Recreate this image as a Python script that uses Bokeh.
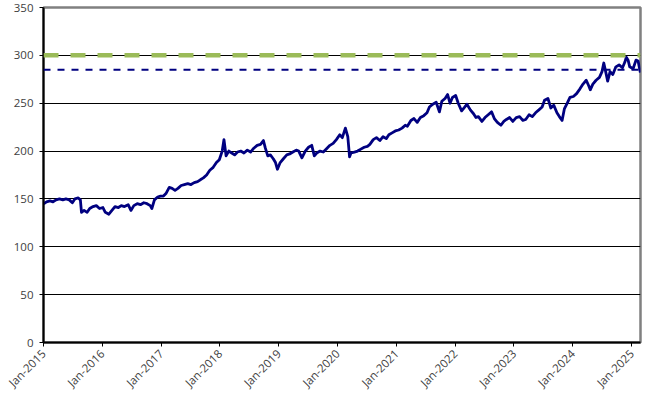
import math
import pandas as pd
from bokeh.plotting import figure
from bokeh.models import Range1d, FixedTicker, DatetimeTickFormatter, Span
from bokeh.embed import file_html
from bokeh.resources import INLINE

# ---- data ----
dates = [
    "2015-01-02", "2015-01-20", "2015-02-10", "2015-03-01", "2015-03-20", "2015-04-10",
    "2015-05-01", "2015-05-20", "2015-06-10", "2015-06-29", "2015-07-15", "2015-08-05",
    "2015-08-18", "2015-08-25", "2015-09-10", "2015-09-29", "2015-10-15", "2015-11-05",
    "2015-11-25", "2015-12-15", "2016-01-05", "2016-01-20", "2016-02-11", "2016-03-01",
    "2016-03-20", "2016-04-10", "2016-04-28", "2016-05-18", "2016-06-10", "2016-06-27",
    "2016-07-15", "2016-08-05", "2016-08-25", "2016-09-15", "2016-10-05", "2016-10-25",
    "2016-11-04", "2016-11-20", "2016-12-10", "2016-12-28", "2017-01-15", "2017-02-01",
    "2017-02-20", "2017-03-10", "2017-03-28", "2017-04-15", "2017-05-05", "2017-05-25",
    "2017-06-15", "2017-07-05", "2017-07-25", "2017-08-15", "2017-09-01", "2017-09-20",
    "2017-10-10", "2017-10-30", "2017-11-20", "2017-12-10", "2017-12-28", "2018-01-15",
    "2018-01-26", "2018-02-08", "2018-02-25", "2018-03-15", "2018-04-02", "2018-04-20",
    "2018-05-10", "2018-05-30", "2018-06-20", "2018-07-10", "2018-07-30", "2018-08-20",
    "2018-09-10", "2018-09-28", "2018-10-10", "2018-10-25", "2018-11-10", "2018-11-28",
    "2018-12-12", "2018-12-24", "2019-01-10", "2019-01-30", "2019-02-20", "2019-03-10",
    "2019-03-30", "2019-04-20", "2019-05-05", "2019-05-25", "2019-06-15", "2019-07-05",
    "2019-07-25", "2019-08-10", "2019-08-25", "2019-09-15", "2019-10-05", "2019-10-28",
    "2019-11-15", "2019-12-05", "2019-12-25", "2020-01-15", "2020-01-31", "2020-02-19",
    "2020-03-05", "2020-03-16", "2020-03-25", "2020-04-15", "2020-05-05", "2020-05-25",
    "2020-06-15", "2020-07-05", "2020-07-20", "2020-08-10", "2020-08-30", "2020-09-20",
    "2020-10-10", "2020-10-30", "2020-11-15", "2020-12-05", "2020-12-25", "2021-01-15",
    "2021-02-05", "2021-02-25", "2021-03-10", "2021-04-01", "2021-04-20", "2021-05-10",
    "2021-05-30", "2021-06-20", "2021-07-10", "2021-07-25", "2021-08-15", "2021-09-05",
    "2021-09-25", "2021-10-10", "2021-10-30", "2021-11-15", "2021-11-30", "2021-12-15",
    "2022-01-04", "2022-01-20", "2022-02-10", "2022-03-01", "2022-03-15", "2022-04-05",
    "2022-04-25", "2022-05-10", "2022-05-25", "2022-06-16", "2022-07-05", "2022-07-25",
    "2022-08-15", "2022-09-01", "2022-09-20", "2022-10-12", "2022-10-30", "2022-11-15",
    "2022-12-05", "2022-12-25", "2023-01-15", "2023-02-05", "2023-02-25", "2023-03-15",
    "2023-04-05", "2023-04-25", "2023-05-15", "2023-06-05", "2023-06-25", "2023-07-10",
    "2023-07-31", "2023-08-18", "2023-09-05", "2023-09-25", "2023-10-10", "2023-10-27",
    "2023-11-10", "2023-11-28", "2023-12-15", "2024-01-05", "2024-01-25", "2024-02-15",
    "2024-03-05", "2024-03-25", "2024-04-10", "2024-04-19", "2024-05-05", "2024-05-25",
    "2024-06-15", "2024-07-01", "2024-07-12", "2024-07-25", "2024-08-05", "2024-08-20",
    "2024-09-06", "2024-09-25", "2024-10-15", "2024-11-05", "2024-11-20", "2024-11-29",
    "2024-12-10", "2024-12-20", "2025-01-10", "2025-01-28", "2025-02-10", "2025-02-24",
]
index_values = [
    145, 147, 148, 147, 149, 150,
    149, 150, 149, 146, 150, 151,
    149, 136, 138, 136, 140, 142,
    143, 140, 141, 136, 134, 138,
    142, 141, 143, 142, 144, 138,
    143, 145, 144, 146, 145, 143,
    140, 149, 152, 153, 153, 156,
    162, 161, 159, 161, 164, 165,
    166, 165, 167, 168, 170, 172,
    175, 180, 183, 188, 191, 200,
    212, 195, 200, 198, 196, 199,
    200, 198, 201, 199, 203, 206,
    207, 211, 203, 195, 196, 192,
    188, 181, 188, 192, 196, 197,
    199, 201, 200, 193, 200, 204,
    206, 195, 198, 200, 199, 203,
    206, 208, 212, 217, 214, 224,
    215, 194, 198, 199, 200, 202,
    204, 205, 207, 212, 214, 211,
    215, 213, 217, 219, 221, 222,
    224, 227, 226, 232, 234, 230,
    235, 237, 240, 246, 249, 251,
    241, 252, 255, 259, 250, 256,
    258, 250, 242, 246, 249, 243,
    239, 235, 236, 231, 235, 238,
    241, 234, 230, 227, 231, 233,
    235, 231, 235, 236, 232, 233,
    238, 236, 240, 243, 246, 253,
    255, 245, 248, 240, 236, 232,
    244, 250, 256, 257, 260, 265,
    270, 274, 268, 264, 270, 274,
    277, 283, 292, 282, 273, 283,
    280, 288, 290, 287, 293, 298,
    295, 288, 286, 295, 294, 282,
]
green_level = 300
blue_level = 285
y_ticks = [0, 50, 100, 150, 200, 250, 300, 350]
grid_ticks = [50, 100, 150, 200, 250, 300]
x_tick_dates = ["2015-01-01", "2016-01-01", "2017-01-01", "2018-01-01", "2019-01-01",
                "2020-01-01", "2021-01-01", "2022-01-01", "2023-01-01", "2024-01-01",
                "2025-01-01"]
x_start, x_end = "2015-01-01", "2025-02-25"

# ---- figure ----
x = pd.to_datetime(dates)
epoch = pd.Timestamp("1970-01-01")
to_ms = lambda s: (pd.Timestamp(s) - epoch) // pd.Timedelta(milliseconds=1)

p = figure(width=655, height=400, x_axis_type="datetime",
           output_backend="svg", toolbar_location=None,
           x_range=Range1d(pd.Timestamp(x_start), pd.Timestamp(x_end)),
           y_range=Range1d(0, 350),
           min_border_left=43, min_border_right=15, min_border_top=7, min_border_bottom=58)
p.background_fill_color = "white"
p.border_fill_color = "white"
p.outline_line_color = "#808080"
p.outline_line_width = 2.5

p.xgrid.visible = False
p.ygrid.ticker = FixedTicker(ticks=grid_ticks)
p.ygrid.grid_line_color = "black"
p.ygrid.grid_line_width = 1

p.yaxis.ticker = FixedTicker(ticks=y_ticks)
p.xaxis.ticker = FixedTicker(ticks=[to_ms(d) for d in x_tick_dates])
fmt = "%b-%Y"
p.xaxis.formatter = DatetimeTickFormatter(
    microseconds=fmt, milliseconds=fmt, seconds=fmt, minsec=fmt, minutes=fmt,
    hourmin=fmt, hours=fmt, days=fmt, months=fmt, years=fmt)
p.xaxis.major_label_orientation = math.pi / 4

for ax in (p.xaxis, p.yaxis):
    ax.axis_line_color = "black"
    ax.axis_line_width = 2
    ax.major_tick_line_color = "black"
    ax.major_tick_line_width = 1
    ax.major_tick_in = 0
    ax.major_tick_out = 4
    ax.minor_tick_line_color = None
    ax.major_label_text_font = "Open Sans"
    ax.major_label_text_font_size = "11.5px"
    ax.major_label_text_color = "#404040"
p.yaxis.major_label_standoff = 6
p.xaxis.major_label_standoff = 5

p.add_layout(Span(location=green_level, dimension="width", line_color="#9BBB59",
                  line_width=4.5, line_dash="15 12"))
p.add_layout(Span(location=blue_level, dimension="width", line_color="#000080",
                  line_width=2, line_dash="7 7"))

p.line(x, index_values, line_color="#000080", line_width=2.8, line_join="round")

open("out.html", "w").write(file_html(p, INLINE))
